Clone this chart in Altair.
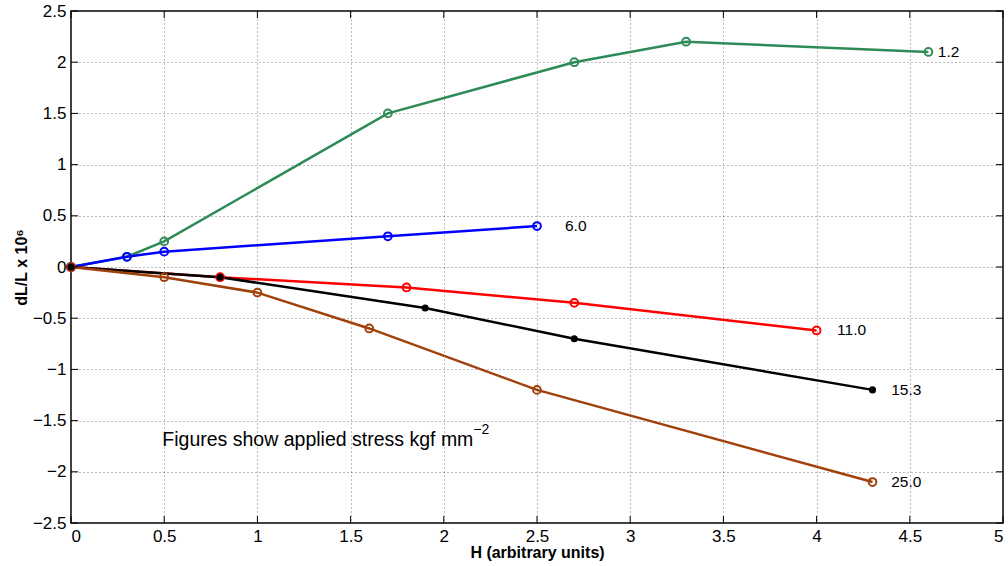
import altair as alt
import pandas as pd

# Series data
stress_labels = ["1.2", "6.0", "11.0", "15.3", "25.0"]
colors = ["#2E8B57", "#0000FF", "#FF0000", "#000000", "#A0400A"]

h_12 = [0, 0.3, 0.5, 1.7, 2.7, 3.3, 4.6]
v_12 = [0, 0.1, 0.25, 1.5, 2.0, 2.2, 2.1]

h_60 = [0, 0.3, 0.5, 1.7, 2.5]
v_60 = [0, 0.1, 0.15, 0.3, 0.4]

h_110 = [0, 0.8, 1.8, 2.7, 4.0]
v_110 = [0, -0.1, -0.2, -0.35, -0.62]

h_153 = [0, 0.8, 1.9, 2.7, 4.3]
v_153 = [0, -0.1, -0.4, -0.7, -1.2]

h_250 = [0, 0.5, 1.0, 1.6, 2.5, 4.3]
v_250 = [0, -0.1, -0.25, -0.6, -1.2, -2.1]

# label anchor positions (data coords)
label_x = [4.65, 2.65, 4.11, 4.40, 4.40]
label_y = [2.1, 0.4, -0.62, -1.2, -2.1]

note_main = "Figures show applied stress kgf mm"
note_sup = "−2"
note_x = [0.49]
note_y = [-1.69]

x_ticks = [0, 0.5, 1, 1.5, 2, 2.5, 3, 3.5, 4, 4.5, 5]
y_ticks = [-2.5, -2, -1.5, -1, -0.5, 0, 0.5, 1, 1.5, 2, 2.5]

W, H = 932, 512
FONT = "Liberation Sans"

series = [(h_12, v_12), (h_60, v_60), (h_110, v_110), (h_153, v_153), (h_250, v_250)]
rows = []
for i, (hs, vs) in enumerate(series):
    for k, (hh, vv) in enumerate(zip(hs, vs)):
        rows.append({"series": stress_labels[i], "order": k, "h": hh, "v": vv, "idx": i})
df = pd.DataFrame(rows)

xs = alt.Scale(domain=[0, 5], nice=False, zero=False)
ys = alt.Scale(domain=[-2.5, 2.5], nice=False, zero=False)
cs = alt.Scale(domain=stress_labels, range=colors)

xax = alt.Axis(values=x_ticks, format="~g", grid=True, tickSize=0, domain=False,
               labelPadding=5, title="H (arbitrary units)", titlePadding=0,
               labelFontSize=17, titleFontSize=16, titleFontWeight="bold")
yax = alt.Axis(values=y_ticks, format="~g", grid=True, tickSize=0, domain=False,
               labelPadding=5, title="dL/L x 10⁶", titlePadding=3,
               labelFontSize=17, titleFontSize=16, titleFontWeight="bold")

base = alt.Chart(df)

lines = base.mark_line(strokeWidth=2.5).encode(
    x=alt.X("h:Q", scale=xs, axis=xax),
    y=alt.Y("v:Q", scale=ys, axis=yax),
    color=alt.Color("series:N", scale=cs, legend=None),
    detail="series:N",
    order="order:Q",
)

open_pts = base.transform_filter(alt.datum.series != "15.3").mark_point(
    shape="circle", filled=False, size=60, strokeWidth=2, opacity=1
).encode(
    x=alt.X("h:Q", scale=xs),
    y=alt.Y("v:Q", scale=ys),
    color=alt.Color("series:N", scale=cs, legend=None),
)

black_pts = base.transform_filter(alt.datum.series == "15.3").mark_point(
    shape="circle", filled=True, size=50, opacity=1
).encode(
    x=alt.X("h:Q", scale=xs),
    y=alt.Y("v:Q", scale=ys),
    color=alt.Color("series:N", scale=cs, legend=None),
)

lab_df = pd.DataFrame({"t": stress_labels, "x": label_x, "y": label_y})
labels = alt.Chart(lab_df).mark_text(align="left", baseline="middle", fontSize=15.5,
                                     font=FONT, color="black").encode(
    x=alt.X("x:Q", scale=xs), y=alt.Y("y:Q", scale=ys), text="t:N")

note_df = pd.DataFrame({"t": [note_main], "s": [note_sup], "x": note_x, "y": note_y})
note = alt.Chart(note_df).mark_text(align="left", baseline="middle", fontSize=19.5,
                                    font=FONT, color="black").encode(
    x=alt.X("x:Q", scale=xs), y=alt.Y("y:Q", scale=ys), text="t:N")
note_s = alt.Chart(note_df).mark_text(align="left", baseline="middle", fontSize=14,
                                      font=FONT, color="black", dx=311, dy=-10).encode(
    x=alt.X("x:Q", scale=xs), y=alt.Y("y:Q", scale=ys), text="s:N")

# inner tick marks (MATLAB style) on all four sides
xt = pd.DataFrame({"x": x_ticks})
yt = pd.DataFrame({"y": y_ticks})
tk = dict(color="black", strokeWidth=1)
xt_bot = alt.Chart(xt).mark_rule(**tk).encode(x=alt.X("x:Q", scale=xs), y=alt.value(H), y2=alt.value(H - 7))
xt_top = alt.Chart(xt).mark_rule(**tk).encode(x=alt.X("x:Q", scale=xs), y=alt.value(0), y2=alt.value(7))
yt_lft = alt.Chart(yt).mark_rule(**tk).encode(y=alt.Y("y:Q", scale=ys), x=alt.value(0), x2=alt.value(7))
yt_rgt = alt.Chart(yt).mark_rule(**tk).encode(y=alt.Y("y:Q", scale=ys), x=alt.value(W), x2=alt.value(W - 7))

chart = alt.layer(
    lines, open_pts, black_pts, labels, note, note_s, xt_bot, xt_top, yt_lft, yt_rgt
).properties(
    width=W, height=H,
    autosize=alt.AutoSizeParams(type="none"),
    padding={"left": 71, "top": 11, "right": 4, "bottom": 42},
).configure(
    font=FONT,
).configure_view(
    stroke="black", strokeWidth=1.5,
).configure_axis(
    gridColor="#555555", gridDash=[1, 3], gridOpacity=0.8, gridWidth=1,
    labelColor="black", titleColor="black", labelFont=FONT, titleFont=FONT,
)

chart.save("out.html", embed_options={"renderer": "svg", "actions": False})
